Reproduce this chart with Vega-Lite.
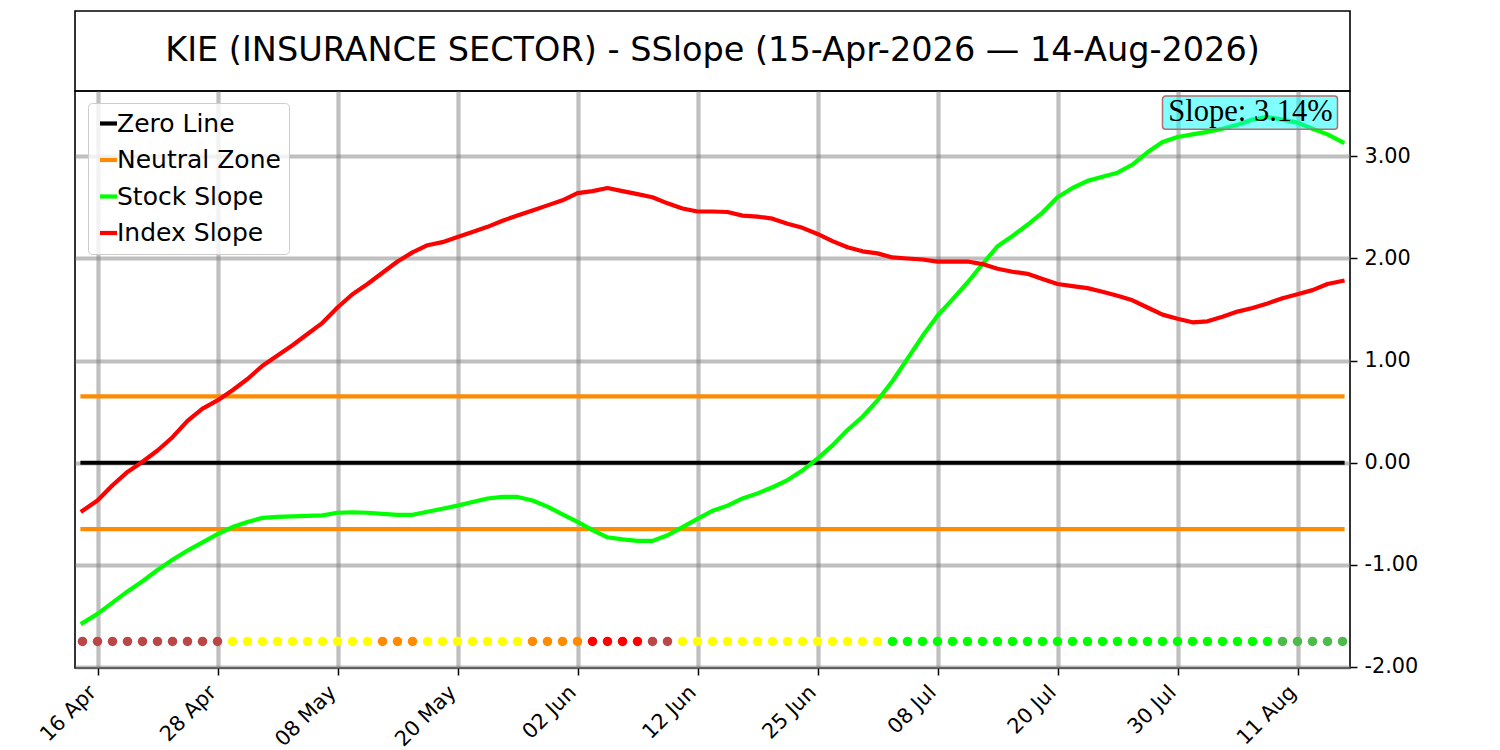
{
  "$schema": "https://vega.github.io/schema/vega-lite/v6.json",
  "padding": {"left": 35, "top": 10, "right": 0, "bottom": 0},
  "autosize": {"type": "pad"},
  "spacing": 0,
  "bounds": "flush",
  "background": "white",
  "config": {
    "view": {"stroke": "black", "strokeWidth": 1.6},
    "font": "DejaVu Sans",
    "axis": {
      "labelFont": "DejaVu Sans",
      "labelFontSize": 20.8,
      "labelColor": "black",
      "tickColor": "black",
      "tickSize": 7,
      "tickWidth": 1.5,
      "domain": false,
      "grid": true,
      "gridColor": "gray",
      "gridOpacity": 0.5,
      "gridWidth": 4.2,
      "title": null
    },
    "legend": {
      "labelFont": "DejaVu Sans",
      "labelFontSize": 25,
      "labelColor": "black",
      "labelLimit": 400
    }
  },
  "vconcat": [
    {
      "width": 1275,
      "height": 80,
      "data": {"values": [{"title": "KIE (INSURANCE SECTOR) - SSlope (15-Apr-2026 — 14-Aug-2026)"}]},
      "mark": {"type": "text", "align": "center", "baseline": "middle", "font": "DejaVu Sans", "fontSize": 33.5, "color": "black"},
      "encoding": {
        "x": {"datum": 0.5, "type": "quantitative", "scale": {"domain": [0, 1]}, "axis": null},
        "y": {"datum": 0.5, "type": "quantitative", "scale": {"domain": [0, 1]}, "axis": null},
        "text": {"field": "title", "type": "nominal"}
      }
    },
    {
      "width": 1275,
      "height": 577,
      "data": {"values": [
        {"date": "2026-04-15", "Stock Slope": -1.57, "Index Slope": -0.47, "signal": "Bearish Weak"},
        {"date": "2026-04-16", "Stock Slope": -1.48, "Index Slope": -0.37, "signal": "Bearish Weak"},
        {"date": "2026-04-17", "Stock Slope": -1.37, "Index Slope": -0.22, "signal": "Bearish Weak"},
        {"date": "2026-04-20", "Stock Slope": -1.26, "Index Slope": -0.09, "signal": "Bearish Weak"},
        {"date": "2026-04-21", "Stock Slope": -1.16, "Index Slope": 0.01, "signal": "Bearish Weak"},
        {"date": "2026-04-22", "Stock Slope": -1.05, "Index Slope": 0.12, "signal": "Bearish Weak"},
        {"date": "2026-04-23", "Stock Slope": -0.95, "Index Slope": 0.25, "signal": "Bearish Weak"},
        {"date": "2026-04-24", "Stock Slope": -0.86, "Index Slope": 0.41, "signal": "Bearish Weak"},
        {"date": "2026-04-27", "Stock Slope": -0.78, "Index Slope": 0.53, "signal": "Bearish Weak"},
        {"date": "2026-04-28", "Stock Slope": -0.70, "Index Slope": 0.61, "signal": "Bearish Weak"},
        {"date": "2026-04-29", "Stock Slope": -0.63, "Index Slope": 0.71, "signal": "Neutral"},
        {"date": "2026-04-30", "Stock Slope": -0.58, "Index Slope": 0.82, "signal": "Neutral"},
        {"date": "2026-05-01", "Stock Slope": -0.54, "Index Slope": 0.95, "signal": "Neutral"},
        {"date": "2026-05-04", "Stock Slope": -0.53, "Index Slope": 1.05, "signal": "Neutral"},
        {"date": "2026-05-05", "Stock Slope": -0.525, "Index Slope": 1.15, "signal": "Neutral"},
        {"date": "2026-05-06", "Stock Slope": -0.52, "Index Slope": 1.26, "signal": "Neutral"},
        {"date": "2026-05-07", "Stock Slope": -0.515, "Index Slope": 1.37, "signal": "Neutral"},
        {"date": "2026-05-08", "Stock Slope": -0.49, "Index Slope": 1.52, "signal": "Neutral"},
        {"date": "2026-05-11", "Stock Slope": -0.485, "Index Slope": 1.65, "signal": "Neutral"},
        {"date": "2026-05-12", "Stock Slope": -0.49, "Index Slope": 1.75, "signal": "Neutral"},
        {"date": "2026-05-13", "Stock Slope": -0.50, "Index Slope": 1.86, "signal": "Caution"},
        {"date": "2026-05-14", "Stock Slope": -0.51, "Index Slope": 1.97, "signal": "Caution"},
        {"date": "2026-05-15", "Stock Slope": -0.51, "Index Slope": 2.06, "signal": "Caution"},
        {"date": "2026-05-18", "Stock Slope": -0.48, "Index Slope": 2.13, "signal": "Neutral"},
        {"date": "2026-05-19", "Stock Slope": -0.45, "Index Slope": 2.16, "signal": "Neutral"},
        {"date": "2026-05-20", "Stock Slope": -0.42, "Index Slope": 2.21, "signal": "Neutral"},
        {"date": "2026-05-21", "Stock Slope": -0.385, "Index Slope": 2.26, "signal": "Neutral"},
        {"date": "2026-05-22", "Stock Slope": -0.35, "Index Slope": 2.31, "signal": "Neutral"},
        {"date": "2026-05-26", "Stock Slope": -0.335, "Index Slope": 2.37, "signal": "Neutral"},
        {"date": "2026-05-27", "Stock Slope": -0.335, "Index Slope": 2.42, "signal": "Neutral"},
        {"date": "2026-05-28", "Stock Slope": -0.37, "Index Slope": 2.47, "signal": "Caution"},
        {"date": "2026-05-29", "Stock Slope": -0.43, "Index Slope": 2.52, "signal": "Caution"},
        {"date": "2026-06-01", "Stock Slope": -0.505, "Index Slope": 2.57, "signal": "Caution"},
        {"date": "2026-06-02", "Stock Slope": -0.58, "Index Slope": 2.64, "signal": "Caution"},
        {"date": "2026-06-03", "Stock Slope": -0.66, "Index Slope": 2.66, "signal": "Bearish Strong"},
        {"date": "2026-06-04", "Stock Slope": -0.73, "Index Slope": 2.69, "signal": "Bearish Strong"},
        {"date": "2026-06-05", "Stock Slope": -0.75, "Index Slope": 2.66, "signal": "Bearish Strong"},
        {"date": "2026-06-08", "Stock Slope": -0.765, "Index Slope": 2.63, "signal": "Bearish Strong"},
        {"date": "2026-06-09", "Stock Slope": -0.765, "Index Slope": 2.60, "signal": "Bearish Weak"},
        {"date": "2026-06-10", "Stock Slope": -0.71, "Index Slope": 2.54, "signal": "Bearish Weak"},
        {"date": "2026-06-11", "Stock Slope": -0.63, "Index Slope": 2.49, "signal": "Neutral"},
        {"date": "2026-06-12", "Stock Slope": -0.55, "Index Slope": 2.46, "signal": "Neutral"},
        {"date": "2026-06-15", "Stock Slope": -0.47, "Index Slope": 2.46, "signal": "Neutral"},
        {"date": "2026-06-16", "Stock Slope": -0.42, "Index Slope": 2.455, "signal": "Neutral"},
        {"date": "2026-06-17", "Stock Slope": -0.35, "Index Slope": 2.42, "signal": "Neutral"},
        {"date": "2026-06-18", "Stock Slope": -0.30, "Index Slope": 2.41, "signal": "Neutral"},
        {"date": "2026-06-22", "Stock Slope": -0.24, "Index Slope": 2.39, "signal": "Neutral"},
        {"date": "2026-06-23", "Stock Slope": -0.17, "Index Slope": 2.34, "signal": "Neutral"},
        {"date": "2026-06-24", "Stock Slope": -0.075, "Index Slope": 2.30, "signal": "Neutral"},
        {"date": "2026-06-25", "Stock Slope": 0.04, "Index Slope": 2.24, "signal": "Neutral"},
        {"date": "2026-06-26", "Stock Slope": 0.17, "Index Slope": 2.17, "signal": "Neutral"},
        {"date": "2026-06-29", "Stock Slope": 0.32, "Index Slope": 2.11, "signal": "Neutral"},
        {"date": "2026-06-30", "Stock Slope": 0.45, "Index Slope": 2.07, "signal": "Neutral"},
        {"date": "2026-07-01", "Stock Slope": 0.61, "Index Slope": 2.05, "signal": "Neutral"},
        {"date": "2026-07-02", "Stock Slope": 0.80, "Index Slope": 2.01, "signal": "Bullish Strong"},
        {"date": "2026-07-06", "Stock Slope": 1.02, "Index Slope": 2.00, "signal": "Bullish Strong"},
        {"date": "2026-07-07", "Stock Slope": 1.24, "Index Slope": 1.99, "signal": "Bullish Strong"},
        {"date": "2026-07-08", "Stock Slope": 1.44, "Index Slope": 1.97, "signal": "Bullish Strong"},
        {"date": "2026-07-09", "Stock Slope": 1.60, "Index Slope": 1.97, "signal": "Bullish Strong"},
        {"date": "2026-07-10", "Stock Slope": 1.765, "Index Slope": 1.97, "signal": "Bullish Strong"},
        {"date": "2026-07-13", "Stock Slope": 1.945, "Index Slope": 1.945, "signal": "Bullish Strong"},
        {"date": "2026-07-14", "Stock Slope": 2.12, "Index Slope": 1.90, "signal": "Bullish Strong"},
        {"date": "2026-07-15", "Stock Slope": 2.22, "Index Slope": 1.87, "signal": "Bullish Strong"},
        {"date": "2026-07-16", "Stock Slope": 2.33, "Index Slope": 1.85, "signal": "Bullish Strong"},
        {"date": "2026-07-17", "Stock Slope": 2.45, "Index Slope": 1.80, "signal": "Bullish Strong"},
        {"date": "2026-07-20", "Stock Slope": 2.60, "Index Slope": 1.75, "signal": "Bullish Strong"},
        {"date": "2026-07-21", "Stock Slope": 2.69, "Index Slope": 1.73, "signal": "Bullish Strong"},
        {"date": "2026-07-22", "Stock Slope": 2.76, "Index Slope": 1.71, "signal": "Bullish Strong"},
        {"date": "2026-07-23", "Stock Slope": 2.80, "Index Slope": 1.675, "signal": "Bullish Strong"},
        {"date": "2026-07-24", "Stock Slope": 2.84, "Index Slope": 1.635, "signal": "Bullish Strong"},
        {"date": "2026-07-27", "Stock Slope": 2.92, "Index Slope": 1.59, "signal": "Bullish Strong"},
        {"date": "2026-07-28", "Stock Slope": 3.04, "Index Slope": 1.52, "signal": "Bullish Strong"},
        {"date": "2026-07-29", "Stock Slope": 3.14, "Index Slope": 1.45, "signal": "Bullish Strong"},
        {"date": "2026-07-30", "Stock Slope": 3.19, "Index Slope": 1.41, "signal": "Bullish Strong"},
        {"date": "2026-07-31", "Stock Slope": 3.215, "Index Slope": 1.375, "signal": "Bullish Strong"},
        {"date": "2026-08-03", "Stock Slope": 3.24, "Index Slope": 1.385, "signal": "Bullish Strong"},
        {"date": "2026-08-04", "Stock Slope": 3.27, "Index Slope": 1.43, "signal": "Bullish Strong"},
        {"date": "2026-08-05", "Stock Slope": 3.31, "Index Slope": 1.48, "signal": "Bullish Strong"},
        {"date": "2026-08-06", "Stock Slope": 3.36, "Index Slope": 1.515, "signal": "Bullish Strong"},
        {"date": "2026-08-07", "Stock Slope": 3.385, "Index Slope": 1.56, "signal": "Bullish Strong"},
        {"date": "2026-08-10", "Stock Slope": 3.36, "Index Slope": 1.61, "signal": "Bullish Weak"},
        {"date": "2026-08-11", "Stock Slope": 3.33, "Index Slope": 1.65, "signal": "Bullish Weak"},
        {"date": "2026-08-12", "Stock Slope": 3.27, "Index Slope": 1.69, "signal": "Bullish Weak"},
        {"date": "2026-08-13", "Stock Slope": 3.215, "Index Slope": 1.75, "signal": "Bullish Weak"},
        {"date": "2026-08-14", "Stock Slope": 3.14, "Index Slope": 1.78, "signal": "Bullish Weak"}
      ]},
      "encoding": {
        "x": {
          "field": "date",
          "type": "ordinal",
          "scale": {"type": "point", "padding": 0.5},
          "axis": {
            "values": ["2026-04-16", "2026-04-28", "2026-05-08", "2026-05-20", "2026-06-02", "2026-06-12", "2026-06-25", "2026-07-08", "2026-07-20", "2026-07-30", "2026-08-11"],
            "labelExpr": "utcFormat(toDate(datum.value), '%d %b')",
            "labelAngle": -45,
            "labelAlign": "right",
            "labelBaseline": "middle",
            "labelPadding": 14,
            "labelOffset": -5,
            "labelOverlap": false
          }
        }
      },
      "layer": [
        {
          "data": {"values": [
            {"name": "Zero Line", "level": 0},
            {"name": "Neutral Zone", "level": 0.65},
            {"name": "Neutral Zone", "level": -0.65}
          ]},
          "mark": {"type": "rule", "strokeWidth": 4.2, "strokeCap": "square"},
          "encoding": {
            "x": {"datum": "2026-04-15", "type": "ordinal"},
            "x2": {"datum": "2026-08-14"},
            "y": {
              "field": "level",
              "type": "quantitative",
              "scale": {"domain": [-2.01, 3.64], "nice": false, "zero": false},
              "axis": {
                "orient": "right",
                "values": [-2, -1, 0, 1, 2, 3],
                "labelExpr": "replace(format(datum.value, '.2f'), '\u2212', '-')",
                "labelPadding": 7
              }
            },
            "color": {
              "field": "name",
              "type": "nominal",
              "scale": {
                "domain": ["Zero Line", "Neutral Zone", "Stock Slope", "Index Slope"],
                "range": ["#000000", "#ff8c00", "#00ff00", "#ff0000"]
              },
              "legend": {
                "title": null,
                "orient": "none",
                "legendX": 13,
                "legendY": 92,
                "symbolType": "stroke",
                "symbolSize": 289,
                "symbolStrokeWidth": 4.2,
                "labelOffset": -4,
                "rowPadding": 10.5,
                "padding": 8,
                "fillColor": "rgba(255,255,255,0.8)",
                "strokeColor": "#cccccc",
                "cornerRadius": 4
              }
            }
          }
        },
        {
          "transform": [{"fold": ["Stock Slope", "Index Slope"], "as": ["series", "value"]}],
          "mark": {"type": "line", "strokeWidth": 4.2, "strokeCap": "square", "strokeJoin": "round"},
          "encoding": {
            "y": {"field": "value", "type": "quantitative"},
            "color": {"field": "series", "type": "nominal"}
          }
        },
        {
          "mark": {"type": "circle", "size": 90, "opacity": 1},
          "encoding": {
            "y": {"datum": -1.75, "type": "quantitative"},
            "fill": {
              "field": "signal",
              "type": "nominal",
              "scale": {
                "domain": ["Bearish Weak", "Bearish Strong", "Caution", "Neutral", "Bullish Strong", "Bullish Weak"],
                "range": ["#bb4646", "#ff0000", "#ff8c00", "#ffff00", "#00ff00", "#4cbb4c"]
              },
              "legend": null
            }
          }
        },
        {
          "data": {"values": [{"label": "Slope: 3.14%"}]},
          "layer": [
            {
              "mark": {"type": "rect", "fill": "#00ffff", "fillOpacity": 0.5, "stroke": "#b36b6b", "strokeWidth": 1.5, "cornerRadius": 3, "x2Offset": -5},
              "encoding": {
                "x": {"datum": "2026-07-29", "type": "ordinal"},
                "x2": {"datum": "2026-08-14"},
                "y": {"datum": 3.59, "type": "quantitative"},
                "y2": {"datum": 3.265}
              }
            },
            {
              "mark": {"type": "text", "font": "Liberation Serif", "fontSize": 30.5, "align": "center", "baseline": "middle", "dx": -2, "color": "black"},
              "encoding": {
                "x": {"datum": "2026-08-06", "type": "ordinal"},
                "y": {"datum": 3.43, "type": "quantitative"},
                "text": {"field": "label", "type": "nominal"}
              }
            }
          ]
        }
      ]
    }
  ]
}
